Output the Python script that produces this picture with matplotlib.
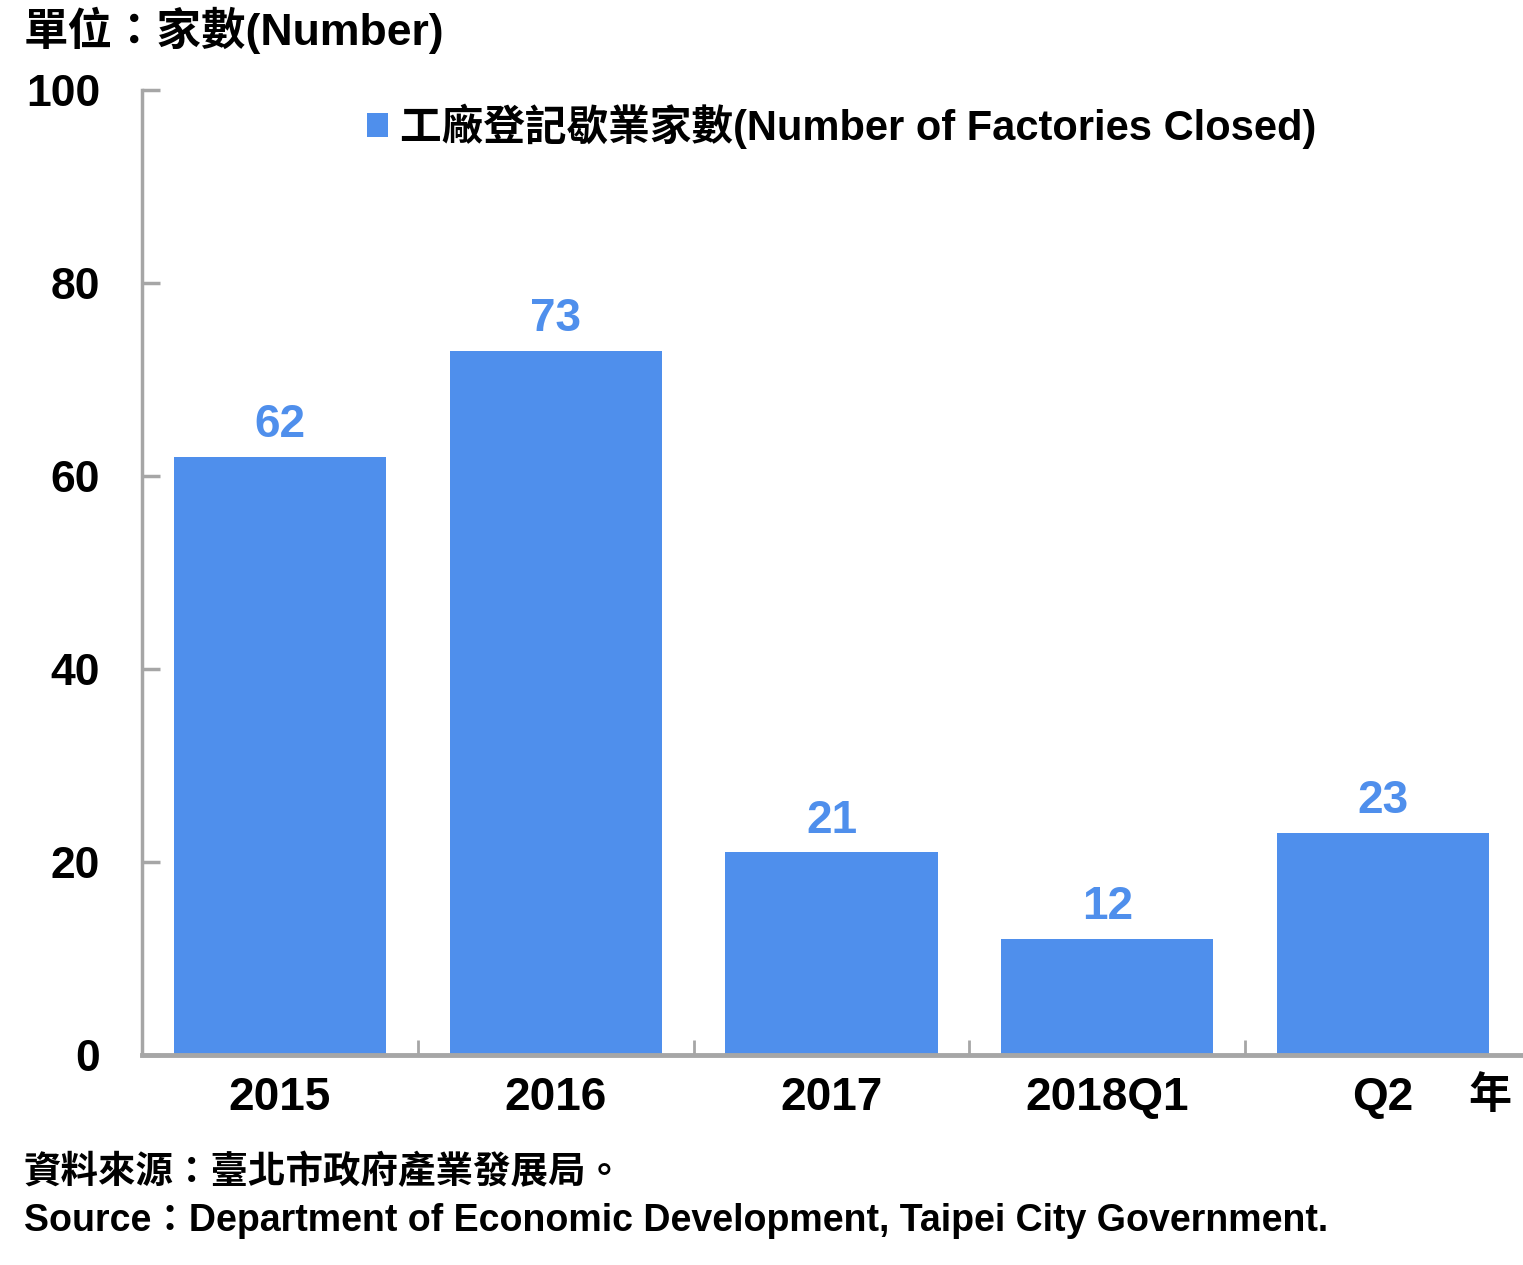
import matplotlib
matplotlib.use("Agg")
import matplotlib.pyplot as plt

categories = ["2015", "2016", "2017", "2018Q1", "Q2"]
values = [62, 73, 21, 12, 23]
yticks = [0, 20, 40, 60, 80, 100]
series_name = "工廠登記歇業家數(Number of Factories Closed)"
unit_label = "單位：家數(Number)"
year_label = "年"
source_zh = "資料來源：臺北市政府產業發展局。"
source_en = "Source：Department of Economic Development, Taipei City Government."

FAM = ["Liberation Sans", "Noto Sans CJK TC", "DejaVu Sans"]
plt.rcParams['font.family'] = FAM
BLUE = "#4F8FEC"
GRAY = "#A6A6A6"

fig = plt.figure(figsize=(15.23, 12.65), dpi=100)
ax = fig.add_axes([142/1523, 1 - 1055/1265, (1521-142)/1523, (1055-90)/1265])

x = list(range(len(categories)))
bars = ax.bar(x, values, width=0.77, color=BLUE, label=series_name, zorder=2)

for xi, v in zip(x, values):
    ax.annotate(str(v), (xi, v), xytext=(0, 7), textcoords="offset points",
                ha="center", va="bottom", color=BLUE, fontsize=33, fontweight="bold")

ax.set_xlim(-0.5, len(categories) - 0.5)
ax.set_ylim(0, 100)
ax.set_yticks(yticks)
ax.set_yticklabels([str(t) for t in yticks], fontsize=32, fontweight="bold")
ax.set_xticks(x)
ax.set_xticklabels(categories, fontsize=33, fontweight="bold")
ax.tick_params(axis="x", length=0, pad=15)
ax.set_xticks([i + 0.5 for i in x[:-1]], minor=True)
ax.tick_params(axis="x", which="minor", direction="in", length=11, width=2, color=GRAY)
ax.tick_params(axis="y", direction="in", length=13, width=2.5, color=GRAY, pad=30)

for s in ["top", "right"]:
    ax.spines[s].set_visible(False)
ax.spines["left"].set_color(GRAY)
ax.spines["left"].set_linewidth(2.5)
ax.spines["bottom"].set_color(GRAY)
ax.spines["bottom"].set_linewidth(3.5)

leg = ax.legend(loc="upper left", bbox_to_anchor=(208/1379, 1 + 3/965), frameon=False,
                prop={"family": FAM, "size": 30, "weight": "bold"},
                handlelength=0.5, handleheight=0.5, handletextpad=0.3, borderaxespad=0)

fig.text(24/1523, 1 - 30/1265, unit_label, fontsize=32, fontweight="bold", va="center", ha="left")
fig.text(1490/1523, 1 - 1097/1265, year_label, fontsize=31, fontweight="bold", va="center", ha="center")
fig.text(24/1523, 1 - 1173/1265, source_zh, fontsize=27, fontweight="bold", va="center", ha="left")
fig.text(24/1523, 1 - 1221/1265, source_en, fontsize=27, fontweight="bold", va="center", ha="left")

fig.savefig("out.png", dpi=100)
